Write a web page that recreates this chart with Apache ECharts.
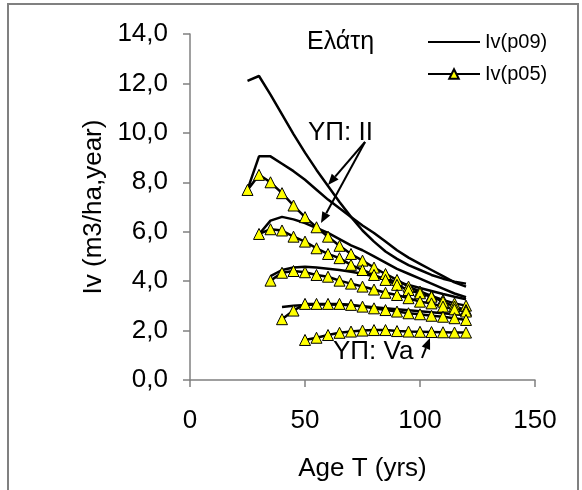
<!DOCTYPE html>
<html>
<head>
<meta charset="utf-8">
<script src="https://cdn.jsdelivr.net/npm/echarts@6/dist/echarts.min.js"></script>
<style>
  html, body { margin: 0; padding: 0; background: #fff; }
  #chart { width: 582px; height: 490px; }
</style>
</head>
<body>
<div id="chart"></div>
<script>
// ages (yrs)
const ages25 = [25, 30, 35, 40, 45, 50, 55, 60, 65, 70, 75, 80, 85, 90, 95, 100, 105, 110, 115, 120];
const ages30 = ages25.slice(1);
const ages35 = ages25.slice(2);
const ages40 = ages25.slice(3);
const ages50 = ages25.slice(5);

// Iv(p09) - site classes II..Va
const p09II  = [12.1, 12.3, 11.55, 10.75, 9.95, 9.2, 8.5, 7.85, 7.2, 6.6, 6.05, 5.6, 5.2, 4.9, 4.65, 4.45, 4.25, 4.1, 3.98, 3.9];
const p09III = [7.7, 9.05, 9.05, 8.75, 8.45, 8.1, 7.7, 7.3, 6.95, 6.6, 6.25, 5.95, 5.6, 5.25, 4.95, 4.7, 4.45, 4.2, 3.95, 3.78];
const p09IV  = [5.9, 6.45, 6.6, 6.5, 6.35, 6.15, 5.95, 5.7, 5.45, 5.25, 5.0, 4.75, 4.5, 4.3, 4.1, 3.9, 3.7, 3.5, 3.35];
const p09V   = [4.2, 4.45, 4.55, 4.58, 4.55, 4.5, 4.45, 4.38, 4.3, 4.2, 4.1, 3.97, 3.85, 3.72, 3.6, 3.48, 3.37, 3.27];
const p09Va  = [2.95, 3.0, 3.03, 3.05, 3.05, 3.04, 3.02, 2.98, 2.94, 2.9, 2.86, 2.82, 2.78, 2.74, 2.7, 2.66, 2.62];

// Iv(p05)
const p05II  = [7.69, 8.3, 8.0, 7.56, 7.06, 6.59, 6.18, 5.8, 5.43, 5.1, 4.83, 4.55, 4.29, 4.05, 3.78, 3.58, 3.4, 3.24, 3.1, 3.01];
const p05III = [5.91, 6.1, 6.05, 5.8, 5.6, 5.33, 5.1, 4.93, 4.66, 4.45, 4.25, 4.05, 3.85, 3.64, 3.51, 3.37, 3.17, 2.97, 2.83];
const p05IV  = [4.02, 4.34, 4.41, 4.36, 4.25, 4.18, 4.02, 3.9, 3.78, 3.66, 3.53, 3.44, 3.31, 3.17, 3.1, 2.97, 2.86, 2.77];
const p05V   = [2.46, 2.81, 3.08, 3.08, 3.08, 3.08, 3.04, 2.97, 2.9, 2.83, 2.77, 2.7, 2.66, 2.6, 2.56, 2.5, 2.43];
const p05Va  = [1.62, 1.71, 1.82, 1.91, 1.96, 2.0, 2.02, 2.02, 1.98, 1.96, 1.95, 1.94, 1.93, 1.92, 1.92];

const yTicks = [0, 2, 4, 6, 8, 10, 12, 14];
const xTicks = [0, 50, 100, 150];

const FONT = 'Liberation Sans, Arial, sans-serif';

function pairs(xs, ys) {
  return ys.map((v, i) => [xs[i], v]);
}

function p09Series(xs, ys) {
  return {
    name: 'Iv(p09)', type: 'line', data: pairs(xs, ys),
    symbol: 'none', lineStyle: { color: '#000', width: 2.5 }, itemStyle: { color: '#000' },
    z: 3
  };
}

function p05Series(xs, ys) {
  return {
    name: 'Iv(p05)', type: 'line', data: pairs(xs, ys),
    symbol: 'triangle', symbolSize: 11, showAllSymbol: true,
    lineStyle: { color: '#000', width: 2.5 },
    itemStyle: { color: '#ffff00', borderColor: '#000', borderWidth: 1 },
    z: 4
  };
}

// arrow = line + little head
function arrow(x1, y1, x2, y2) {
  const a = Math.atan2(y2 - y1, x2 - x1);
  const len = 11, w = 4.5;
  const bx = x2 - len * Math.cos(a), by = y2 - len * Math.sin(a);
  const nx = -Math.sin(a) * w, ny = Math.cos(a) * w;
  return [
    { type: 'line', shape: { x1: x1, y1: y1, x2: bx, y2: by }, style: { stroke: '#000', lineWidth: 2 }, z: 10 },
    { type: 'polygon', shape: { points: [[x2, y2], [bx + nx, by + ny], [bx - nx, by - ny]] }, style: { fill: '#000' }, z: 10 }
  ];
}

const chart = echarts.init(document.getElementById('chart'));

chart.setOption({
  animation: false,
  backgroundColor: '#fff',
  grid: { left: 190, right: 47, top: 34, bottom: 110 },
  legend: {
    data: [
      { name: 'Iv(p09)', itemStyle: { opacity: 0 } },
      { name: 'Iv(p05)' }
    ],
    orient: 'vertical', left: 427, top: 32, padding: 0,
    itemWidth: 52, itemHeight: 12, itemGap: 12,
    textStyle: { fontFamily: FONT, fontSize: 20, color: '#000' }
  },
  xAxis: {
    type: 'value', min: 0, max: 150, interval: 50,
    name: 'Age T (yrs)', nameLocation: 'middle', nameGap: 76,
    nameTextStyle: { fontFamily: FONT, fontSize: 26, color: '#000' },
    axisLine: { lineStyle: { color: '#808080', width: 1.5 } },
    axisTick: { inside: false, length: 7, lineStyle: { color: '#808080', width: 1.5 } },
    axisLabel: { fontFamily: FONT, fontSize: 26, color: '#000', margin: 28,
      formatter: v => xTicks.includes(v) ? String(v) : '' },
    splitLine: { show: false }
  },
  yAxis: {
    type: 'value', min: 0, max: 14, interval: 2,
    name: 'Iv (m3/ha,year)', nameLocation: 'middle', nameGap: 50, nameRotate: 90,
    nameTextStyle: { fontFamily: FONT, fontSize: 26, color: '#000' },
    axisLine: { show: true, lineStyle: { color: '#808080', width: 1.5 } },
    axisTick: { show: true, inside: false, length: 7, lineStyle: { color: '#808080', width: 1.5 } },
    axisLabel: { fontFamily: FONT, fontSize: 26, color: '#000', margin: 22,
      formatter: v => yTicks.includes(v) ? v.toFixed(1).replace('.', ',') : '' },
    splitLine: { show: false }
  },
  series: [
    p09Series(ages25, p09II),
    p09Series(ages25, p09III),
    p09Series(ages30, p09IV),
    p09Series(ages35, p09V),
    p09Series(ages40, p09Va),
    p05Series(ages25, p05II),
    p05Series(ages30, p05III),
    p05Series(ages35, p05IV),
    p05Series(ages40, p05V),
    p05Series(ages50, p05Va)
  ],
  graphic: [
    { type: 'rect', shape: { x: 8, y: 4, width: 570, height: 500 },
      style: { fill: 'none', stroke: '#808080', lineWidth: 2 }, silent: true, z: 0 },
    { type: 'text', x: 307, y: 42, style: { text: 'Ελάτη', fontFamily: FONT, fontSize: 25, fill: '#000', verticalAlign: 'middle' }, z: 10 },
    { type: 'text', x: 308, y: 133, style: { text: 'ΥΠ: II', fontFamily: FONT, fontSize: 26, fill: '#000', verticalAlign: 'middle' }, z: 10 },
    { type: 'text', x: 333, y: 352, style: { text: 'ΥΠ: Va', fontFamily: FONT, fontSize: 26, fill: '#000', verticalAlign: 'middle' }, z: 10 }
  ]
    .concat(arrow(365, 142, 328, 185))
    .concat(arrow(365, 142, 321, 223))
    .concat(arrow(422, 358, 430, 338))
});
</script>
</body>
</html>
